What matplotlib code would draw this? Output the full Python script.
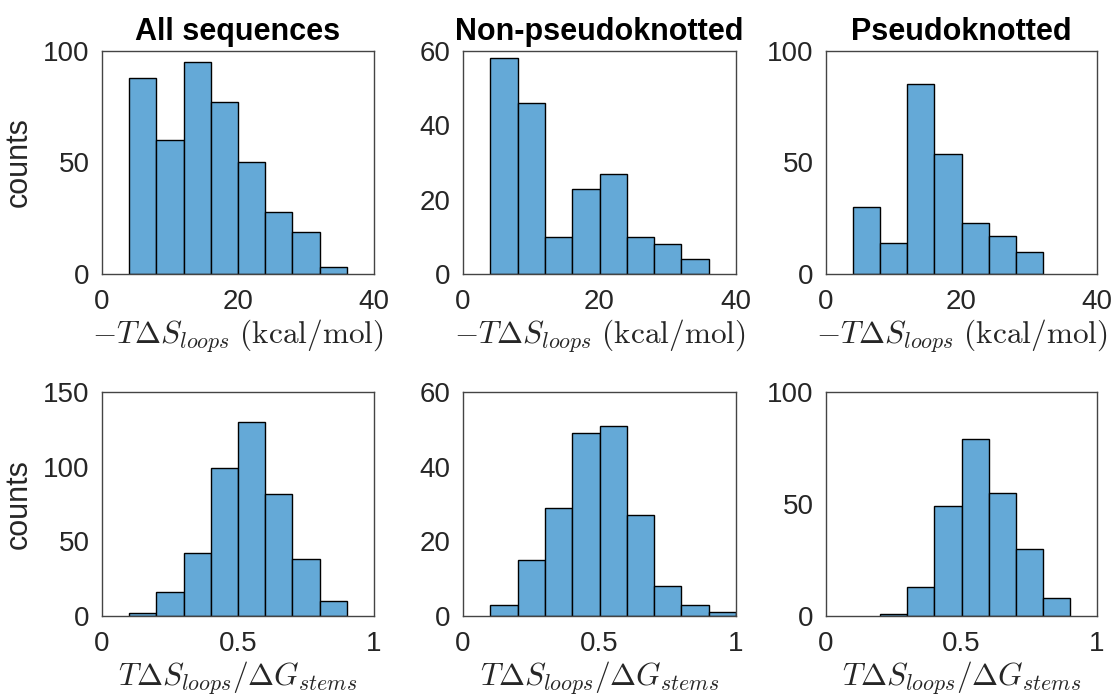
import numpy as np
import matplotlib
matplotlib.use("Agg")
import matplotlib.pyplot as plt

plt.rcParams['font.family'] = ['Liberation Sans', 'DejaVu Sans']
plt.rcParams['mathtext.fontset'] = 'cm'

# ---- data ----
titles = ["All sequences", "Non-pseudoknotted", "Pseudoknotted"]

# top row: -T dS_loops (kcal/mol), bins of width 4
entropy_edges_all = [4, 8, 12, 16, 20, 24, 28, 32, 36]
entropy_counts_all = [88, 60, 95, 77, 50, 28, 19, 3]
entropy_edges_npk = [4, 8, 12, 16, 20, 24, 28, 32, 36]
entropy_counts_npk = [58, 46, 10, 23, 27, 10, 8, 4]
entropy_edges_pk = [4, 8, 12, 16, 20, 24, 28, 32]
entropy_counts_pk = [30, 14, 85, 54, 23, 17, 10]

# bottom row: T dS_loops / dG_stems, bins of width 0.1
ratio_edges_all = [0.1, 0.2, 0.3, 0.4, 0.5, 0.6, 0.7, 0.8, 0.9]
ratio_counts_all = [2, 16, 42, 99, 130, 82, 38, 10]
ratio_edges_npk = [0.1, 0.2, 0.3, 0.4, 0.5, 0.6, 0.7, 0.8, 0.9, 1.0]
ratio_counts_npk = [3, 15, 29, 49, 51, 27, 8, 3, 1]
ratio_edges_pk = [0.2, 0.3, 0.4, 0.5, 0.6, 0.7, 0.8, 0.9]
ratio_counts_pk = [1, 13, 49, 79, 55, 30, 8]

top_ylims = [100, 60, 100]
top_yticks = [[0, 50, 100], [0, 20, 40, 60], [0, 50, 100]]
bot_ylims = [150, 60, 100]
bot_yticks = [[0, 50, 100, 150], [0, 20, 40, 60], [0, 50, 100]]

top_xticks = [0, 20, 40]
bot_xticks = [0, 0.5, 1]
bot_xticklabels = ["0", "0.5", "1"]

top_xlabel = r"$-T\Delta S_{loops}\ (\mathrm{kcal/mol})$"
bot_xlabel = r"$T\Delta S_{loops}/\Delta G_{stems}$"

# ---- styling ----
W, H = 1117, 697
bar_color = "#64a9d7"
axis_color = "#262626"
tick_fs = 20
title_fs = 22
label_fs = 22
math_fs = 22.5

fig = plt.figure(figsize=(W / 100, H / 100), dpi=100)

lefts = [102, 463, 826]
widths = [272, 273, 271]
top_row = (51, 274)
bot_row = (392, 616)


def make_ax(left, width, top, bottom):
    return fig.add_axes([left / W, (H - bottom) / H, width / W, (bottom - top) / H])


def style(ax):
    for s in ax.spines.values():
        s.set_color("#444444")
        s.set_linewidth(1.0)
    ax.tick_params(length=0, labelsize=tick_fs, colors=axis_color)
    ax.tick_params(axis='y', pad=9)
    ax.tick_params(axis='x', pad=11)


top_data = [(entropy_edges_all, entropy_counts_all),
            (entropy_edges_npk, entropy_counts_npk),
            (entropy_edges_pk, entropy_counts_pk)]
bot_data = [(ratio_edges_all, ratio_counts_all),
            (ratio_edges_npk, ratio_counts_npk),
            (ratio_edges_pk, ratio_counts_pk)]

for i in range(3):
    # top row
    ax = make_ax(lefts[i], widths[i], *top_row)
    edges, counts = top_data[i]
    edges = np.array(edges, dtype=float)
    ax.bar(edges[:-1], counts, width=np.diff(edges), align='edge',
           color=bar_color, edgecolor='black', linewidth=1.0)
    ax.set_xlim(0, 40)
    ax.set_ylim(0, top_ylims[i])
    ax.set_xticks(top_xticks)
    ax.set_yticks(top_yticks[i])
    ax.set_title(titles[i], fontsize=title_fs, fontweight='bold', pad=8, color='black')
    ax.set_xlabel(top_xlabel, fontsize=math_fs, color=axis_color, labelpad=2)
    if i == 0:
        ax.set_ylabel("counts", fontsize=label_fs, color=axis_color, labelpad=7)
    style(ax)

    # bottom row
    ax = make_ax(lefts[i], widths[i], *bot_row)
    edges, counts = bot_data[i]
    edges = np.array(edges, dtype=float)
    ax.bar(edges[:-1], counts, width=np.diff(edges), align='edge',
           color=bar_color, edgecolor='black', linewidth=1.0)
    ax.set_xlim(0, 1)
    ax.set_ylim(0, bot_ylims[i])
    ax.set_xticks(bot_xticks)
    ax.set_xticklabels(bot_xticklabels)
    ax.set_yticks(bot_yticks[i])
    ax.set_xlabel(bot_xlabel, fontsize=math_fs, color=axis_color, labelpad=2)
    if i == 0:
        ax.set_ylabel("counts", fontsize=label_fs, color=axis_color, labelpad=7)
    style(ax)

fig.savefig("out.png", dpi=100)
